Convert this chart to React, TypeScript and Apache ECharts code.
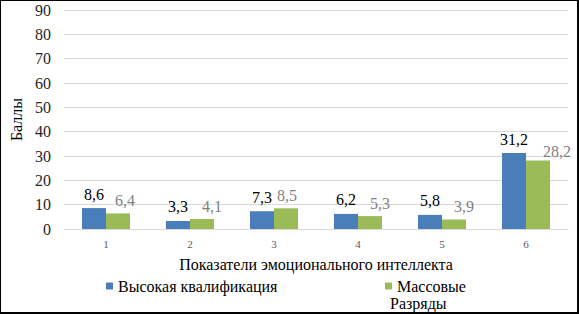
import React, { useEffect, useRef } from "react";
import * as echarts from "echarts";

const categories = ["1", "2", "3", "4", "5", "6"];
const highQualification = [8.6, 3.3, 7.3, 6.2, 5.8, 31.2];
const massRanks = [6.4, 4.1, 8.5, 5.3, 3.9, 28.2];
const massLabelShift = [7, 10, 1, 10, 10, 19];
const seriesNames = ["Высокая квалификация", "Массовые Разряды"];
const yTicks = { min: 0, max: 90, interval: 10 };

const FONT = "Liberation Serif";

export default function App() {
  const ref = useRef<HTMLDivElement>(null);
  useEffect(() => {
    if (!ref.current) return;
    const chart = echarts.init(ref.current, null, { renderer: "svg" });
    const fmt = (p: any) => String(p.value).replace(".", ",");
    chart.setOption({
      animation: false,
      backgroundColor: "#ffffff",
      textStyle: { fontFamily: FONT },
      grid: { left: 57, right: 11, top: 10, bottom: 85 },
      legend: [
        {
          data: [seriesNames[0]],
          left: 106,
          top: 278,
          padding: 0,
          itemWidth: 7,
          itemHeight: 7,
          itemGap: 5,
          icon: "rect",
          textStyle: { fontFamily: FONT, fontSize: 16, lineHeight: 16, color: "#000" },
        },
        {
          data: [seriesNames[1]],
          left: 385,
          top: 278,
          padding: 0,
          itemWidth: 7,
          itemHeight: 7,
          icon: "rect",
          formatter: () => "Массовые",
          textStyle: { fontFamily: FONT, fontSize: 16, lineHeight: 16, color: "#000" },
        },
      ],
      graphic: [
        {
          type: "text",
          left: 390,
          top: 295,
          style: { text: "Разряды", fontFamily: FONT, fontSize: 16, lineHeight: 16, fill: "#000" },
        },
      ],
      xAxis: {
        type: "category",
        data: categories,
        name: "Показатели эмоционального интеллекта",
        nameLocation: "middle",
        nameGap: 27,
        nameTextStyle: { fontFamily: FONT, fontSize: 16, color: "#000" },
        axisLine: { lineStyle: { color: "#d9d9d9" } },
        axisTick: { show: false },
        axisLabel: { fontFamily: FONT, fontSize: 11, color: "#595959", margin: 9 },
      },
      yAxis: {
        type: "value",
        min: yTicks.min,
        max: yTicks.max,
        interval: yTicks.interval,
        name: "Баллы",
        nameLocation: "middle",
        nameGap: 40,
        nameTextStyle: { fontFamily: FONT, fontSize: 16, color: "#000" },
        axisLine: { show: false },
        axisTick: { show: false },
        axisLabel: { fontFamily: FONT, fontSize: 16, color: "#262626", margin: 13 },
        splitLine: { lineStyle: { color: "#d9d9d9" } },
      },
      series: [
        {
          name: seriesNames[0],
          type: "bar",
          data: highQualification,
          barWidth: 24,
          barGap: "0%",
          itemStyle: { color: "#4a7ebb" },
          label: {
            show: true,
            position: "top",
            distance: 6,
            formatter: fmt,
            fontFamily: FONT,
            fontSize: 16,
            color: "#000",
          },
        },
        {
          name: seriesNames[1],
          type: "bar",
          data: massRanks.map((v, i) => ({
            value: v,
            label: { offset: [massLabelShift[i], i === 5 ? 4 : 0] },
          })),
          barWidth: 24,
          itemStyle: { color: "#9bbb59" },
          label: {
            show: true,
            position: "top",
            distance: 5,
            formatter: fmt,
            fontFamily: FONT,
            fontSize: 16,
            color: "#7f7f7f",
          },
        },
      ],
    });
    return () => chart.dispose();
  }, []);
  return (
    <div style={{ position: "fixed", left: 0, top: 0, width: 579, height: 314 }}>
      <div ref={ref} style={{ width: 579, height: 314 }} />
      <div
        style={{
          position: "absolute",
          left: 0,
          top: 0,
          width: 579,
          height: 314,
          boxSizing: "border-box",
          borderTop: "1px solid #000",
          borderLeft: "1px solid #000",
          borderRight: "2px solid #000",
          borderBottom: "2px solid #000",
          pointerEvents: "none",
        }}
      />
    </div>
  );
}
